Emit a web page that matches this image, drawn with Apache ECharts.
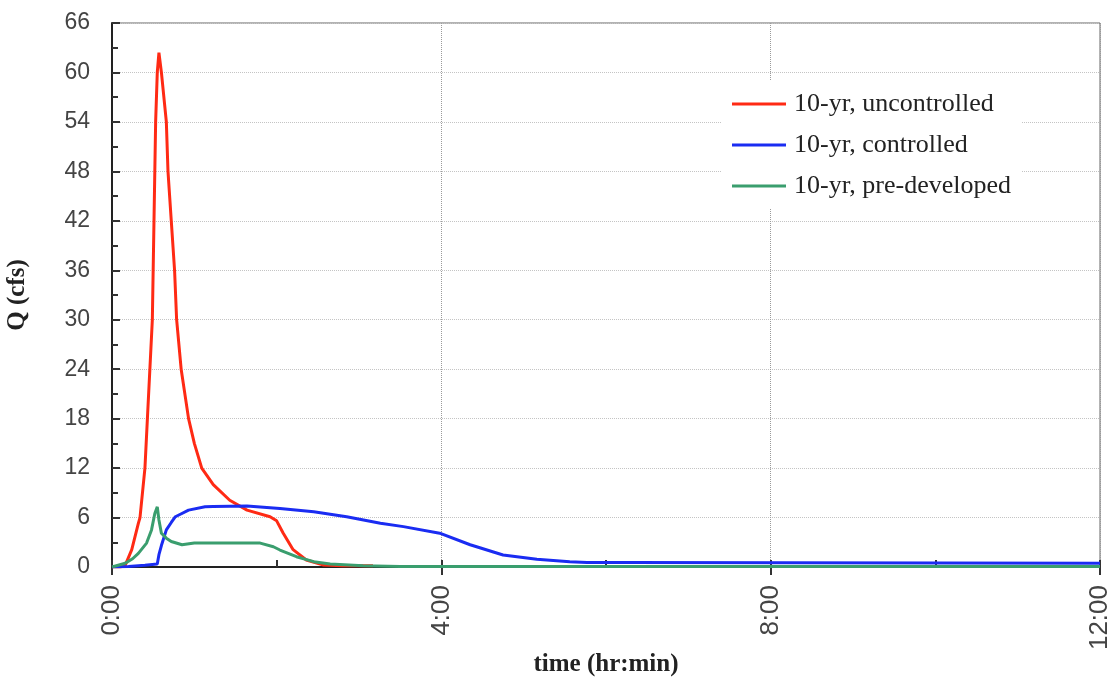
<!DOCTYPE html>
<html>
<head>
<meta charset="utf-8">
<script src="https://cdn.jsdelivr.net/npm/echarts@6/dist/echarts.min.js"></script>
<style>
html,body{margin:0;padding:0;background:#fff;}
#chart{width:1112px;height:688px;}
</style>
</head>
<body>
<div id="chart"></div>
<script>
// Data (time in hours, Q in cfs)
const seriesNames = ['10-yr, uncontrolled', '10-yr, controlled', '10-yr, pre-developed'];
const xTickHours = [0, 4, 8, 12];
const yTicks = [0, 6, 12, 18, 24, 30, 36, 42, 48, 54, 60, 66];

const tUncontrolled = [0, 0.10, 0.16, 0.24, 0.32, 0.34, 0.40, 0.43, 0.46, 0.49, 0.50, 0.51, 0.52, 0.53, 0.55, 0.57, 0.59, 0.60, 0.63, 0.66, 0.68, 0.72, 0.76, 0.785, 0.84, 0.93, 1.0, 1.09, 1.23, 1.43, 1.64, 1.92, 2.0, 2.08, 2.2, 2.36, 2.57, 2.8, 3.17];
const qUncontrolled = [0, 0, 0.2, 2.1, 5.3, 6, 12, 18, 24, 30, 36, 42, 48, 54, 60, 62.4, 62.2, 60, 57, 54, 48, 42, 36, 30, 24, 18, 15, 12, 10, 8.1, 6.9, 6.1, 5.6, 4.1, 2.1, 0.85, 0.25, 0.15, 0.15];

const tControlled = [0, 0.2, 0.4, 0.55, 0.57, 0.6, 0.66, 0.72, 0.77, 0.83, 0.93, 1.13, 1.23, 1.64, 2.04, 2.45, 2.85, 3.26, 3.54, 3.98, 4.35, 4.75, 5.16, 5.56, 5.77, 6.29, 6.3, 12];
const qControlled = [0, 0.05, 0.2, 0.35, 1.5, 2.6, 4.5, 5.4, 6.1, 6.4, 6.9, 7.3, 7.35, 7.4, 7.1, 6.7, 6.1, 5.3, 4.9, 4.1, 2.7, 1.45, 0.93, 0.65, 0.55, 0.55, 0.45, 0.45];

const tPreDeveloped = [0, 0.16, 0.25, 0.32, 0.42, 0.48, 0.52, 0.55, 0.57, 0.60, 0.66, 0.72, 0.85, 1.0, 1.13, 1.8, 1.96, 2.04, 2.24, 2.45, 2.65, 3.05, 3.5, 12];
const qPreDeveloped = [0, 0.45, 1.0, 1.66, 2.9, 4.5, 6.5, 7.3, 5.7, 4.1, 3.5, 3.1, 2.7, 2.9, 2.9, 2.9, 2.46, 2.06, 1.25, 0.65, 0.36, 0.15, 0.05, 0.05];

function pairs(t, q) { return t.map((v, i) => [v, q[i]]); }

const chart = echarts.init(document.getElementById('chart'), null, {renderer: 'canvas'});
const titleFont = {fontFamily: 'Liberation Serif', fontSize: 25, fontWeight: 'bold', color: '#222'};

chart.setOption({
  animation: false,
  backgroundColor: '#fff',
  grid: {left: 112, right: 12, top: 23, bottom: 121, outerBoundsMode: 'none', containLabel: false, show: true, borderColor: '#666', borderWidth: 1},
  legend: {
    data: seriesNames,
    orient: 'vertical',
    left: 722,
    top: 81,
    backgroundColor: '#fff',
    padding: [10, 10, 10, 10],
    itemWidth: 54,
    itemHeight: 3,
    itemGap: 15,
    icon: 'rect',
    textStyle: {fontFamily: 'Liberation Serif', fontSize: 26, color: '#222', padding: [0, 0, 0, 3]}
  },
  xAxis: [{
    type: 'value',
    min: xTickHours[0],
    max: xTickHours[xTickHours.length - 1],
    interval: 4,
    name: 'time (hr:min)',
    nameLocation: 'middle',
    nameGap: 85,
    nameMoveOverlap: false,
    nameTextStyle: titleFont,
    axisLine: {show: true, onZero: false, lineStyle: {color: '#222', width: 2}},
    axisTick: {show: true, inside: false, length: 8, lineStyle: {color: '#333', width: 2}},
    axisLabel: {rotate: 90, margin: 18, formatter: v => v + ':00', fontFamily: 'Liberation Sans', fontSize: 26, color: '#444'},
    splitLine: {show: true, lineStyle: {color: '#9a9a9a', type: 'dotted', width: 1}}
  }, {
    type: 'value',
    position: 'bottom',
    min: 0,
    max: 12,
    interval: 2,
    axisLine: {show: false},
    axisTick: {show: true, inside: true, length: 7, lineStyle: {color: '#333', width: 2}},
    axisLabel: {show: false},
    splitLine: {show: false}
  }],
  yAxis: {
    type: 'value',
    min: yTicks[0],
    max: yTicks[yTicks.length - 1],
    interval: 6,
    name: 'Q (cfs)',
    nameLocation: 'middle',
    nameGap: 82,
    nameMoveOverlap: false,
    nameRotate: 90,
    nameTextStyle: titleFont,
    axisLine: {show: true, lineStyle: {color: '#222', width: 2}},
    axisTick: {show: true, inside: true, length: 8, lineStyle: {color: '#333', width: 2}},
    minorTick: {show: true, splitNumber: 2, length: 6, lineStyle: {color: '#333', width: 2}},
    axisLabel: {margin: 22, fontFamily: 'Liberation Sans', fontSize: 23, color: '#444'},
    splitLine: {show: true, lineStyle: {color: '#c4c4c4', type: 'dotted', width: 1}}
  },
  series: [
    {name: seriesNames[0], type: 'line', xAxisIndex: 0, data: pairs(tUncontrolled, qUncontrolled), symbol: 'none', lineStyle: {width: 3, color: '#ff2a14'}, itemStyle: {color: '#ff2a14'}},
    {name: seriesNames[1], type: 'line', xAxisIndex: 0, data: pairs(tControlled, qControlled), symbol: 'none', lineStyle: {width: 3, color: '#1a2cf2'}, itemStyle: {color: '#1a2cf2'}},
    {name: seriesNames[2], type: 'line', xAxisIndex: 0, data: pairs(tPreDeveloped, qPreDeveloped), symbol: 'none', lineStyle: {width: 3, color: '#3a9e6e'}, itemStyle: {color: '#3a9e6e'}}
  ]
});
</script>
</body>
</html>
